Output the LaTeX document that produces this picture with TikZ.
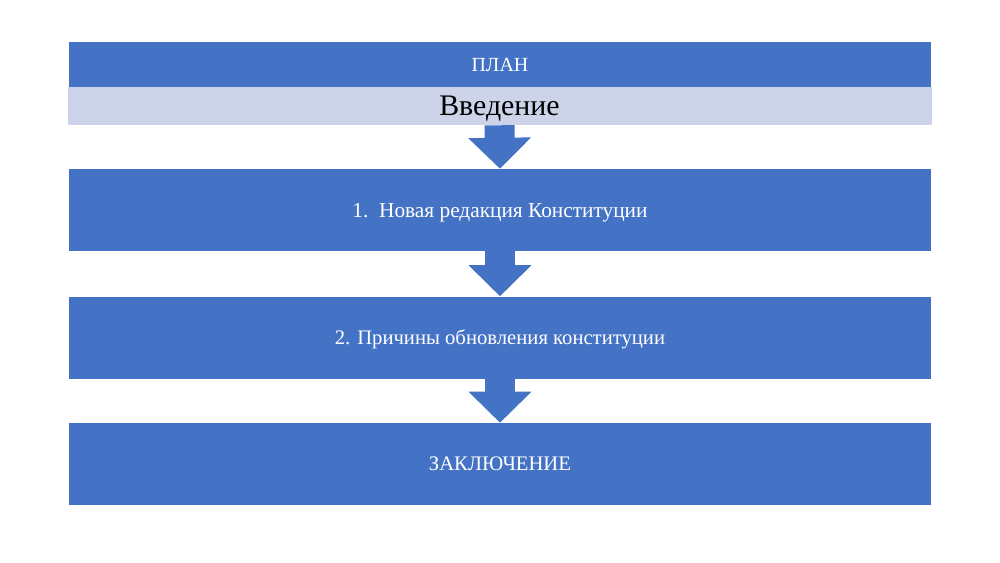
\documentclass[tikz,border=0pt]{standalone}
\usepackage{fontspec}
\setmainfont{Liberation Serif}
\usetikzlibrary{arrows.meta}
\definecolor{planblue}{HTML}{4472C4}
\definecolor{planlight}{HTML}{CDD4EA}
\tikzset{
  bar/.style={rectangle, fill=planblue, inner sep=0pt, text depth=0pt, minimum width=862*0.75pt, text=white, font=\fontsize{15.5}{18}\selectfont},
  lightbar/.style={rectangle, fill=planlight, inner sep=0pt, text depth=0pt, minimum width=864*0.75pt, text=black, font=\fontsize{22.4}{26}\selectfont},
  downarrow/.style={draw=planblue, line width=30*0.75pt, -{Triangle[length=31*0.75pt, width=61*0.75pt]}, planblue}
}
\begin{document}
\begin{tikzpicture}[x=0.75pt, y=-0.75pt]
      \useasboundingbox (0,0) rectangle (1000,562);
      % Nodes
      \node[bar, minimum height=45*0.75pt, font=\fontsize{15}{18}\selectfont] at (500, 64.5) (plan) {ПЛАН};
      \node[lightbar, minimum height=38*0.75pt] at (499.5, 106) (intro) {Введение};
      \node[bar, minimum height=82*0.75pt, font=\fontsize{16}{19}\selectfont] at (500, 210) (part1) {1.\ \ Новая редакция Конституции};
      \node[bar, minimum height=82*0.75pt] at (500, 337.5) (part2) {2. Причины обновления конституции};
      \node[bar, minimum height=82*0.75pt] at (500, 464) (final) {ЗАКЛЮЧЕНИЕ};

      \draw[downarrow] (intro.south) -- (part1.north);
      \draw[downarrow] (part1.south) -- (part2.north);
      \draw[downarrow] (part2.south) -- (final.north);
    \end{tikzpicture}
\end{document}
